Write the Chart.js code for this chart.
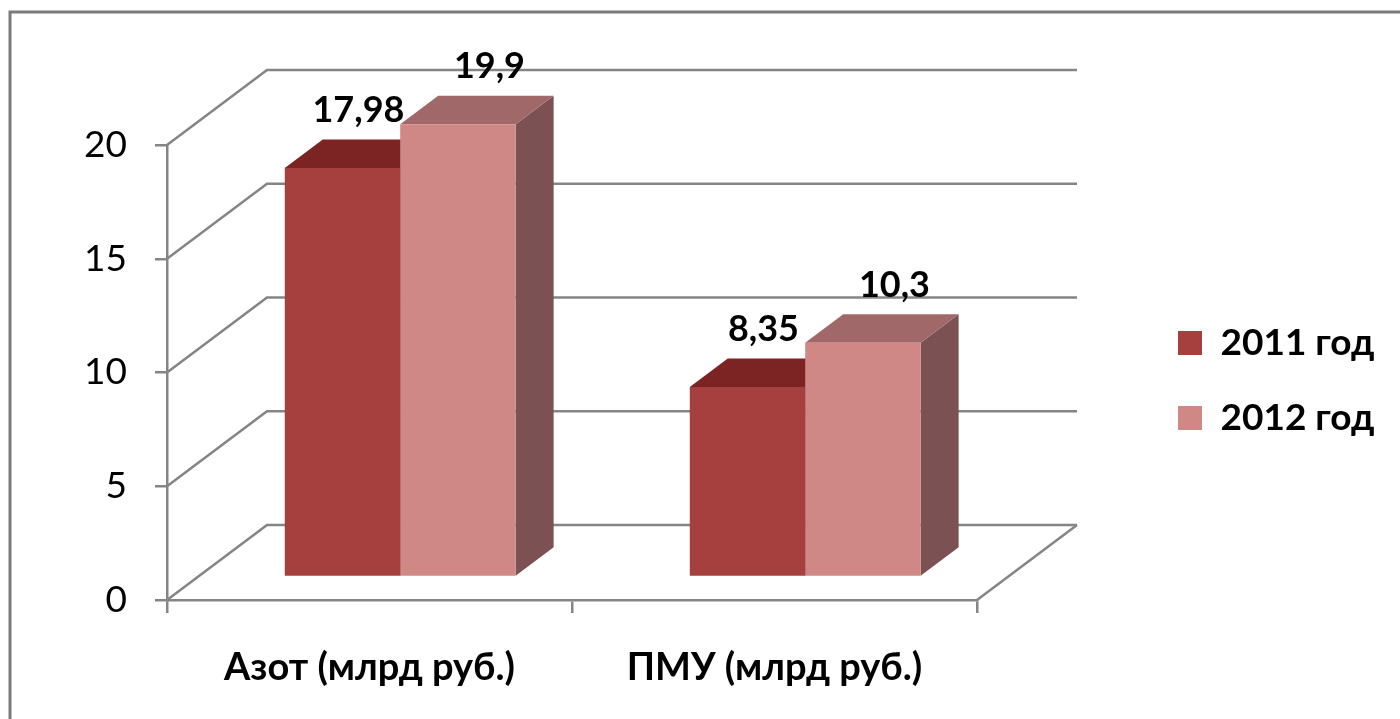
<!DOCTYPE html>
<html>
<head>
<meta charset="utf-8">
<title>Азот и ПМУ, 2011–2012</title>
<script src="https://cdn.jsdelivr.net/npm/chart.js@4.4.1/dist/chart.umd.min.js"></script>
<style>
  html, body { margin: 0; padding: 0; background: #ffffff; }
  #wrap { position: relative; width: 1400px; height: 719px; }
  canvas { display: block; }
</style>
</head>
<body>
<div id="wrap"><canvas id="chart" width="1400" height="719"></canvas></div>
<script>
// ---- data ----
const categories = ['Азот (млрд руб.)', 'ПМУ (млрд руб.)'];
const seriesNames = ['2011 год', '2012 год'];
const values2011 = [17.98, 8.35];
const values2012 = [19.9, 10.3];
const yTicks = [0, 5, 10, 15, 20];

// ---- look ----
const FONT = "Lato, 'Open Sans', 'Noto Sans', sans-serif";
const GRID = '#858585';
const faces = [
  { front: '#a6403e', top: '#7c2323', side: '#6f2b2b' },
  { front: '#cf8886', top: '#a06868', side: '#7b5153' }
];
// perspective: full floor depth vector, and where the bars sit inside it
const DEPTH_X = 100, DEPTH_Y = -75;
const BAR_FRONT = 0.307, BAR_DEPTH = 0.38;
const LABEL_SHIFT = [0.42, 0.83];
const LEGEND_FONT = 37, LEGEND_STEP = 75;
const LEGEND_PAD = LEGEND_STEP - LEGEND_FONT;

const fmt = v => String(v).replace('.', ',');

// outer frame of the chart area
const frame = {
  id: 'frame',
  beforeDraw(chart) {
    const ctx = chart.ctx;
    ctx.save();
    ctx.strokeStyle = '#7a7a7a';
    ctx.lineWidth = 3;
    ctx.beginPath();
    ctx.moveTo(10, chart.height + 2);
    ctx.lineTo(10, 12);
    ctx.lineTo(chart.width + 2, 12);
    ctx.stroke();
    ctx.restore();
  }
};

// the category axis and the legend are kept narrow for the layout;
// let their text run on past those boxes
const textRoom = {
  id: 'textRoom',
  afterLayout(chart) {
    chart.scales.x.bottom = chart.height;
    const lg = chart.legend;
    lg.right = chart.width;
    lg.width = chart.width - lg.left;
  }
};

// walls, floor and the depth faces of the bars
const box3d = {
  id: 'box3d',
  beforeDatasetsDraw(chart) {
    const { ctx, chartArea: a, scales: { y } } = chart;
    ctx.save();
    ctx.strokeStyle = GRID;
    ctx.lineWidth = 2.5;
    ctx.lineJoin = 'miter';
    yTicks.forEach(v => {
      const py = y.getPixelForValue(v);
      ctx.beginPath();
      ctx.moveTo(a.left, py);
      ctx.lineTo(a.left + DEPTH_X, py + DEPTH_Y);
      ctx.lineTo(a.right + DEPTH_X, py + DEPTH_Y);
      ctx.stroke();
    });
    const p0 = y.getPixelForValue(0);
    ctx.beginPath();
    ctx.moveTo(a.right, p0);
    ctx.lineTo(a.right + DEPTH_X, p0 + DEPTH_Y);
    ctx.stroke();
    ctx.restore();

    const ox = DEPTH_X * BAR_FRONT, oy = DEPTH_Y * BAR_FRONT;
    const bx = DEPTH_X * BAR_DEPTH, by = DEPTH_Y * BAR_DEPTH;
    ctx.save();
    for (let i = 0; i < categories.length; i++) {
      chart.data.datasets.forEach((ds, d) => {
        const bar = chart.getDatasetMeta(d).data[i];
        const p = bar.getProps(['x', 'y', 'base', 'width'], true);
        const l = p.x - p.width / 2 + ox, r = p.x + p.width / 2 + ox;
        const t = p.y + oy, b = p.base + oy;
        ctx.fillStyle = faces[d].side;
        ctx.beginPath();
        ctx.moveTo(r, t); ctx.lineTo(r + bx, t + by);
        ctx.lineTo(r + bx, b + by); ctx.lineTo(r, b);
        ctx.closePath(); ctx.fill();
        ctx.fillStyle = faces[d].top;
        ctx.beginPath();
        ctx.moveTo(l, t); ctx.lineTo(l + bx, t + by);
        ctx.lineTo(r + bx, t + by); ctx.lineTo(r, t);
        ctx.closePath(); ctx.fill();
      });
    }
    ctx.restore();
    // front faces are drawn by the bar controller, pushed into the depth
    ctx.save();
    ctx.translate(ox, oy);
  },
  afterDatasetsDraw(chart) {
    const ctx = chart.ctx;
    ctx.restore();
    const ox = DEPTH_X * BAR_FRONT, oy = DEPTH_Y * BAR_FRONT;
    const bx = DEPTH_X * BAR_DEPTH, by = DEPTH_Y * BAR_DEPTH;
    ctx.save();
    ctx.fillStyle = '#000';
    ctx.font = `bold 36px ${FONT}`;
    ctx.textAlign = 'center';
    ctx.textBaseline = 'middle';
    chart.data.datasets.forEach((ds, d) => {
      chart.getDatasetMeta(d).data.forEach((bar, i) => {
        const p = bar.getProps(['x', 'y'], true);
        ctx.fillText(fmt(ds.data[i]), p.x + ox + bx * LABEL_SHIFT[d], p.y + oy + by - 29);
      });
    });
    ctx.restore();
  }
};

new Chart(document.getElementById('chart'), {
  type: 'bar',
  data: {
    labels: categories,
    datasets: [
      { label: seriesNames[0], data: values2011, backgroundColor: faces[0].front, borderWidth: 0, clip: false },
      { label: seriesNames[1], data: values2012, backgroundColor: faces[1].front, borderWidth: 0, clip: false }
    ]
  },
  options: {
    responsive: false,
    devicePixelRatio: 1,
    animation: false,
    datasets: { bar: { categoryPercentage: 0.57, barPercentage: 1 } },
    layout: { padding: { left: 20, top: 145, right: 60, bottom: 103 } },
    plugins: {
      tooltip: { enabled: false },
      legend: {
        position: 'right',
        align: 'center',
        maxWidth: 162 + LEGEND_PAD,
        labels: {
          boxWidth: 24,
          boxHeight: 24,
          padding: LEGEND_PAD,
          color: '#000',
          font: { family: FONT, size: LEGEND_FONT, weight: 'bold' }
        }
      }
    },
    scales: {
      x: {
        grid: { drawOnChartArea: false, drawTicks: true, tickLength: 13, color: GRID, lineWidth: 2.5, offset: true },
        border: { display: true, color: GRID, width: 2.5 },
        ticks: { color: '#000', padding: 32, maxRotation: 0, autoSkip: false, font: { family: FONT, size: 38, weight: 'bold' } },
        afterFit(s) { s.height = 16; }
      },
      y: {
        min: yTicks[0],
        max: yTicks[yTicks.length - 1],
        ticks: { stepSize: yTicks[1] - yTicks[0], padding: 28, color: '#000', font: { family: FONT, size: 37 } },
        grid: { drawOnChartArea: false, drawTicks: true, tickLength: 12, color: GRID, lineWidth: 2.5 },
        border: { display: true, color: GRID, width: 2.5 },
        afterFit(s) { s.width = 147; }
      },
      gap: {
        position: 'right',
        display: true,
        grid: { display: false },
        border: { display: false },
        ticks: { display: false },
        afterFit(s) { s.width = 201 - LEGEND_PAD; }
      }
    }
  },
  plugins: [frame, textRoom, box3d]
});
</script>
</body>
</html>
